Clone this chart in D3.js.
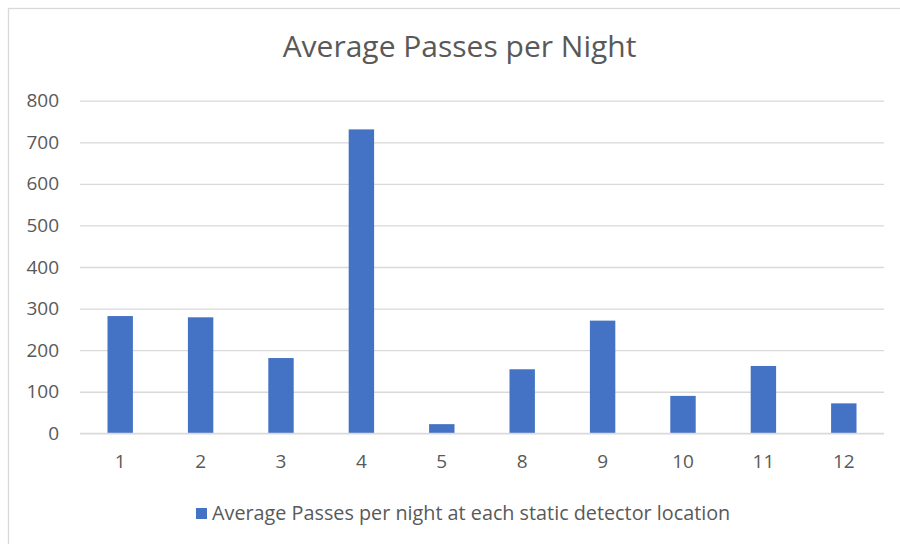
<!DOCTYPE html>
<html>
<head>
<meta charset="utf-8">
<script src="https://cdn.jsdelivr.net/npm/d3@7"></script>
<style>
  html, body { margin: 0; padding: 0; background: #ffffff; }
  svg { display: block; }
  text { font-family: "Open Sans", "Noto Sans", sans-serif; fill: #595959; }
</style>
</head>
<body>
<svg id="chart" width="900" height="544"></svg>
<script>
// Detector locations and their average bat passes per night
const locations = ["1", "2", "3", "4", "5", "8", "9", "10", "11", "12"];
const avgPasses = [282, 279, 181, 731, 22, 154, 271, 90, 162, 72];
const yTicks = [0, 100, 200, 300, 400, 500, 600, 700, 800];
const chartTitle = "Average Passes per Night";
const seriesName = "Average Passes per night at each static detector location";

const W = 900, H = 544;
const plot = { left: 80, right: 884, top: 100.7, bottom: 433.3 };
const barColor = "#4472c4";
const gridColor = "#d9d9d9";

const svg = d3.select("#chart");

// Chart area frame
svg.append("rect")
  .attr("x", 8.5).attr("y", 8.5)
  .attr("width", W).attr("height", H)
  .attr("fill", "#ffffff")
  .attr("stroke", "#d9d9d9")
  .attr("stroke-width", 1.3);

const x = d3.scaleBand()
  .domain(locations)
  .range([plot.left, plot.right])
  .paddingInner(0.684)
  .paddingOuter(0.342);

const y = d3.scaleLinear()
  .domain([0, 800])
  .range([plot.bottom, plot.top]);

// Horizontal gridlines with value labels
const yAxis = d3.axisLeft(y)
  .tickValues(yTicks)
  .tickSize(-(plot.right - plot.left))
  .tickPadding(21);

const gy = svg.append("g")
  .attr("transform", `translate(${plot.left},0)`)
  .call(yAxis);
gy.select(".domain").remove();
gy.selectAll(".tick line")
  .attr("stroke", gridColor)
  .attr("stroke-width", 1.3);
gy.selectAll(".tick text")
  .attr("font-size", 19)
  .attr("fill", "#595959")
  .style("font-family", "'Open Sans', sans-serif");

// Bars
svg.append("g")
  .selectAll("rect")
  .data(avgPasses)
  .join("rect")
  .attr("x", (d, i) => x(locations[i]))
  .attr("y", d => y(d))
  .attr("width", x.bandwidth())
  .attr("height", d => y(0) - y(d))
  .attr("fill", barColor);

// Category axis
const xAxis = d3.axisBottom(x).tickSize(0).tickPadding(21);
const gx = svg.append("g")
  .attr("transform", `translate(0,${plot.bottom})`)
  .call(xAxis);
gx.select(".domain")
  .attr("stroke", gridColor)
  .attr("stroke-width", 1.3)
  .attr("d", `M${plot.left},0H${plot.right}`);
gx.selectAll(".tick text")
  .attr("font-size", 19)
  .attr("fill", "#595959")
  .style("font-family", "'Open Sans', sans-serif");

// Title
svg.append("text")
  .attr("x", 459.5)
  .attr("y", 57)
  .attr("text-anchor", "middle")
  .attr("font-size", 30)
  .text(chartTitle);

// Legend
const legend = svg.append("g");
legend.append("rect")
  .attr("x", 196).attr("y", 508)
  .attr("width", 11).attr("height", 11)
  .attr("fill", barColor);
legend.append("text")
  .attr("x", 212)
  .attr("y", 520)
  .attr("font-size", 19.8)
  .text(seriesName);
</script>
</body>
</html>
